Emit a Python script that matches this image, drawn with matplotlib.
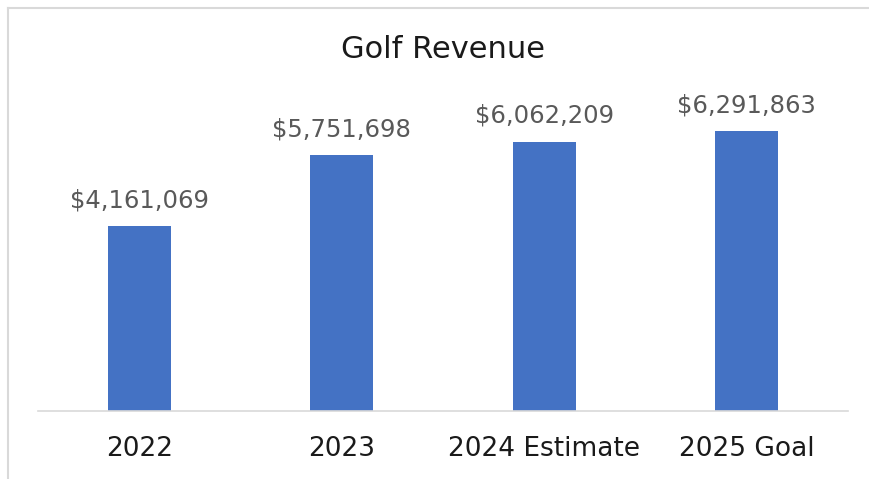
import matplotlib
matplotlib.use("Agg")
import matplotlib.pyplot as plt
from matplotlib.lines import Line2D

BLUE = "#4472C4"
LABEL_GREY = "#595959"
LINE_GREY = "#D9D9D9"

categories = ["2022", "2023", "2024 Estimate", "2025 Goal"]
revenue = [4161069, 5751698, 6062209, 6291863]

fig = plt.figure(figsize=(8.7, 4.79), dpi=100)
fig.patch.set_facecolor("white")
ax = fig.add_axes([38 / 870, 1 - 411 / 479, 810 / 870, 311 / 479])

x = range(len(categories))
ax.bar(x, revenue, width=0.31, color=BLUE)
ax.set_xlim(-0.5, len(categories) - 0.5)
ax.set_ylim(0, 7000000)

for xi, v in zip(x, revenue):
    ax.annotate(f"${v:,.0f}", (xi, v), xytext=(0, 10), textcoords="offset points",
                ha="center", va="bottom", fontsize=17.5, color=LABEL_GREY)

ax.set_xticks(list(x))
ax.set_xticklabels(categories, fontsize=19, color="#1a1a1a")
ax.tick_params(axis="x", length=0, pad=18)
ax.set_yticks([])
for s in ("top", "right", "left"):
    ax.spines[s].set_visible(False)
ax.spines["bottom"].set_color(LINE_GREY)
ax.spines["bottom"].set_linewidth(1.2)

fig.text(443 / 870, 1 - 49 / 479, "Golf Revenue", ha="center", va="center",
         fontsize=22, color="#1a1a1a")

# chart frame (only top and left edges fall inside the crop)
fig.add_artist(Line2D([8.5 / 870, 8.5 / 870], [0, 1 - 7.5 / 479],
                      transform=fig.transFigure, color=LINE_GREY, lw=1.5))
fig.add_artist(Line2D([8.5 / 870, 1], [1 - 7.5 / 479, 1 - 7.5 / 479],
                      transform=fig.transFigure, color=LINE_GREY, lw=1.5))

fig.savefig("out.png", facecolor="white")
